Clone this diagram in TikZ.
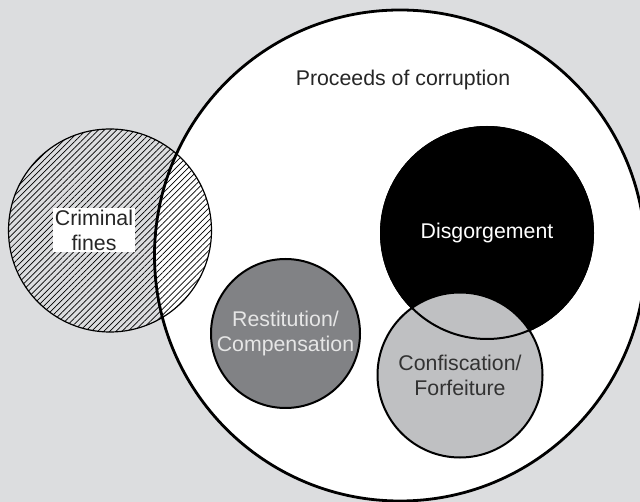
\documentclass[tikz,border=0pt]{standalone}
\usepackage{fontspec}
\setmainfont{Liberation Sans}
\usetikzlibrary{patterns.meta}
\definecolor{bg}{RGB}{220,221,223}
\definecolor{restfill}{RGB}{129,130,133}
\definecolor{resttext}{RGB}{230,230,230}
\definecolor{conffill}{RGB}{191,192,194}
\definecolor{conftext}{RGB}{50,50,50}
\tikzset{
  lbl/.style={font=\fontsize{21.3}{25}\selectfont, align=center, inner sep=0pt},
  ring/.style={circle, inner sep=0pt, draw=black}
}
\begin{document}
\begin{tikzpicture}[x=1pt,y=-1pt]
\useasboundingbox (0,0) rectangle (640,502);
\clip (0,0) rectangle (640,502);
\fill[bg] (0,0) rectangle (640,502);
% big circle fill
\node[circle, inner sep=0pt, minimum size=491pt, fill=white] (proc) at (400,255.5) {};
% criminal fines hatched circle
\node[ring, line width=1.2pt, minimum size=203pt,
  pattern={Lines[angle=45,distance=4.3pt,line width=0.7pt]}] (fines) at (110,230.5) {};
% big circle outline on top
\draw[line width=2.8pt] (proc.center) circle (245.5pt);
\node[lbl, text=black!85] (proclbl) at (403,80) {Proceeds of corruption};
\node[lbl, fill=white, inner sep=2pt, text=black!85] (fineslbl) at (94,230) {Criminal\\fines};
% restitution
\node[ring, line width=2pt, minimum size=149pt, fill=restfill, text=resttext, lbl] (rest) at (285.5,333.5) {Restitution/\\Compensation};
% disgorgement
\node[ring, line width=2pt, minimum size=212pt, fill=black] (disg) at (487,233) {};
% confiscation
\node[ring, line width=2pt, minimum size=165pt, fill=conffill] (conf) at (460,375) {};
\draw[line width=2pt] (disg.center) circle (106pt);
\node[lbl, text=white] (disglbl) at (disg.center) {Disgorgement};
\node[lbl, text=conftext] (conflbl) at (conf.center) {Confiscation/\\Forfeiture};
\end{tikzpicture}
\end{document}
